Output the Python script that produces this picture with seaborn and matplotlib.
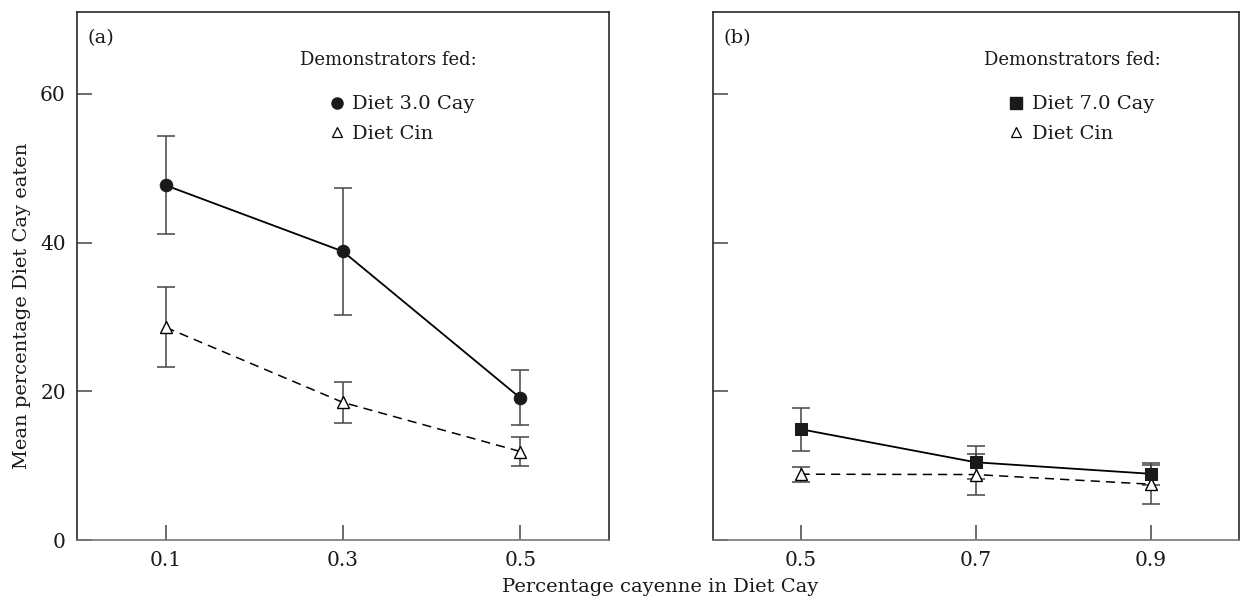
import matplotlib
matplotlib.use("Agg")
import matplotlib.pyplot as plt
from matplotlib.lines import Line2D
import seaborn as sns
import pandas as pd

sns.set_theme(style="white")
plt.rcParams['font.family'] = ['DejaVu Serif']

# panel (a)
cay_a = [0.1, 0.3, 0.5]
diet30_mean = [47.7, 38.8, 19.1]
diet30_err = [6.6, 8.6, 3.7]
cin_a_mean = [28.6, 18.5, 11.9]
cin_a_err = [5.4, 2.8, 1.9]

# panel (b)
cay_b = [0.5, 0.7, 0.9]
diet70_mean = [14.9, 10.45, 8.9]
diet70_err = [2.9, 2.2, 1.5]
cin_b_mean = [8.85, 8.8, 7.5]
cin_b_err = [1.0, 2.8, 2.6]

yticks = [0, 20, 40, 60]

fig = plt.figure(figsize=(12.41, 6.0), dpi=100)
ax1 = fig.add_axes([0.062, 0.10, 0.4287, 0.88])
ax2 = fig.add_axes([0.5745, 0.10, 0.4235, 0.88])

def draw_panel(ax, x, m1, e1, lab1, mk1, ms1, m2, e2, xlim, xticks, letter,
               title_x, leg_x):
    df1 = pd.DataFrame({'x': x, 'y': m1})
    df2 = pd.DataFrame({'x': x, 'y': m2})
    ax.errorbar(x, m1, yerr=e1, fmt='none', ecolor='#444444', elinewidth=1.1,
                capsize=6.5, capthick=1.1, zorder=2)
    ax.errorbar(x, m2, yerr=e2, fmt='none', ecolor='#444444', elinewidth=1.1,
                capsize=6.5, capthick=1.1, zorder=2)
    sns.lineplot(data=df2, x='x', y='y', ax=ax, color='black', linewidth=1.1,
                 linestyle=(0, (6, 4)), marker='^', markersize=8,
                 markerfacecolor='white', markeredgecolor='black', markeredgewidth=1.0,
                 zorder=3)
    sns.lineplot(data=df1, x='x', y='y', ax=ax, color='black', linewidth=1.3,
                 marker=mk1, markersize=ms1, markerfacecolor='#1a1a1a',
                 markeredgecolor='#1a1a1a', zorder=4)
    ax.set_xlim(*xlim)
    ax.set_ylim(0, 71)
    ax.set_xticks(xticks)
    ax.set_xticklabels([f'{v:.1f}' for v in xticks])
    ax.set_yticks(yticks)
    ax.set_xlabel('')
    ax.set_ylabel('')
    for s in ax.spines.values():
        s.set_color('#2a2a2a')
        s.set_linewidth(1.2)
    ax.spines['bottom'].set_color('#777777')
    ax.tick_params(axis='both', direction='in', length=11, width=1.1,
                   color='#444444', labelsize=14.5, labelcolor='#1a1a1a',
                   bottom=True, left=True)
    ax.tick_params(axis='x', pad=8)
    ax.tick_params(axis='y', pad=8)
    ax.text(0.02, 0.951, letter, transform=ax.transAxes, fontsize=14,
            ha='left', va='center', color='#1a1a1a')
    ax.text(title_x, 0.909, 'Demonstrators fed:', transform=ax.transAxes,
            fontsize=13, ha='left', va='center', color='#1a1a1a')
    h1 = Line2D([], [], linestyle='none', marker=mk1, markersize=ms1 - 1,
                markerfacecolor='#1a1a1a', markeredgecolor='#1a1a1a')
    h2 = Line2D([], [], linestyle='none', marker='^', markersize=7,
                markerfacecolor='white', markeredgecolor='black', markeredgewidth=0.9)
    ax.legend([h1, h2], [lab1, 'Diet Cin'], frameon=False, fontsize=14,
              loc='upper left', bbox_to_anchor=(leg_x, 0.842),
              borderpad=0, borderaxespad=0, handlelength=0.8,
              handletextpad=0.4, labelspacing=0.6, labelcolor='#1a1a1a')

draw_panel(ax1, cay_a, diet30_mean, diet30_err, 'Diet 3.0 Cay', 'o', 9,
           cin_a_mean, cin_a_err, (0.0, 0.6), [0.1, 0.3, 0.5], '(a)', 0.419, 0.474)
draw_panel(ax2, cay_b, diet70_mean, diet70_err, 'Diet 7.0 Cay', 's', 9,
           cin_b_mean, cin_b_err, (0.4, 1.0), [0.5, 0.7, 0.9], '(b)', 0.516, 0.562)
ax2.set_yticklabels([])

fig.text(0.018, 0.49, 'Mean percentage Diet Cay eaten', rotation=90,
         ha='center', va='center', fontsize=14, color='#1a1a1a')
fig.text(0.532, 0.022, 'Percentage cayenne in Diet Cay', ha='center',
         va='center', fontsize=14, color='#1a1a1a')

fig.savefig('out.png', dpi=100)
